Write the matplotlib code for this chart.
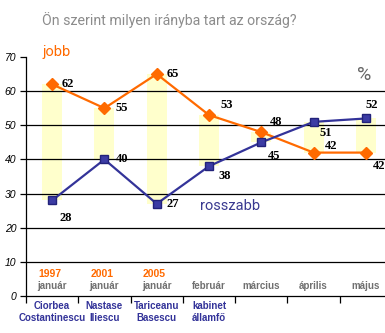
import numpy as np
import matplotlib
matplotlib.use('Agg')
from matplotlib import pyplot as plt

# data
months = ['január', 'január', 'január', 'február', 'március', 'április', 'május']
years = ['1997', '2001', '2005', '', '', '', '']
names = ['Ciorbea\nCostantinescu', 'Nastase\nIliescu', 'Tariceanu\nBasescu',
         'kabinet\nállamfő', '', '', '']
jobb = [62, 55, 65, 53, 48, 42, 42]
rosszabb = [28, 40, 27, 38, 45, 51, 52]

# label offsets in points (dx, dy)
jobb_off = [(7, 0), (8, 0), (7, 0), (8, 7), (6, 7), (8, 5), (5, -10)]
rossz_off = [(5, -13), (8, 0), (7, 0), (7, -7), (5, -10), (4, -8), (0, 10)]

ORANGE = '#ff6a00'
NAVY = '#333399'
YELLOW = '#ffffcc'

fig = plt.figure(figsize=(3.85, 3.33), dpi=100)
ax = fig.add_axes([26/385, 1-296/333, 366/385, (296-57)/333])

x = np.arange(len(months)) + 0.5
lo = np.minimum(jobb, rosszabb)
hi = np.maximum(jobb, rosszabb)
ax.bar(x, hi - lo, bottom=lo, width=0.38, color=YELLOW, zorder=1)

for v in range(10, 70, 10):
    ax.axhline(v, color='black', lw=0.9, zorder=1.5)

ax.plot(x, jobb, color=ORANGE, lw=1.6, marker='D', ms=5.8, mec=ORANGE, zorder=3)
ax.plot(x, rosszabb, color=NAVY, lw=1.6, marker='s', ms=5.5,
        mfc='#3c3ca4', mec='#22227a', zorder=3)

lab = dict(fontsize=9, fontweight='bold', family=['Liberation Serif', 'DejaVu Serif'],
           va='center', ha='left', zorder=4)
for xi, v, o in zip(x, jobb, jobb_off):
    ax.annotate(str(v), (xi, v), xytext=o, textcoords='offset points', **lab)
for xi, v, o in zip(x, rosszabb, rossz_off):
    ax.annotate(str(v), (xi, v), xytext=o, textcoords='offset points', **lab)

ax.set_xlim(0, 7)
ax.set_ylim(0, 70)
ax.set_yticks(range(0, 71, 10))
ax.set_xticks(range(0, 8))
ax.set_xticklabels([])
ax.tick_params(axis='y', direction='out', length=4, width=0.9, pad=3,
               labelsize=7.5)
ax.tick_params(axis='x', direction='out', length=5, width=0.9)
for t in ax.get_yticklabels():
    t.set_fontstyle('italic')
    t.set_family(['Liberation Sans', 'DejaVu Sans'])
for s in ['top', 'right']:
    ax.spines[s].set_visible(False)
for s in ['left', 'bottom']:
    ax.spines[s].set_linewidth(0.9)

sans = ['Liberation Sans', 'DejaVu Sans']
for xi, m, yr, nm in zip(x, months, years, names):
    ax.text(xi, 2.9, m, ha='center', va='center', fontsize=7, fontweight='bold',
            color='#707070', family=sans)
    if yr:
        ax.text(xi - 0.05, 6.4, yr, ha='center', va='center', fontsize=7.5,
                fontweight='bold', color=ORANGE, family=sans)
    if nm:
        ax.text(xi, -1.6, nm, ha='center', va='top', fontsize=7, fontweight='bold',
                color=NAVY, family=sans, linespacing=1.2, clip_on=False)

cond = ['Roboto', 'DejaVu Sans']
fig.text(42/385, 1-20/333, 'Ön szerint milyen irányba tart az ország?', fontsize=10.2,
         color='#8c8c8c', va='center', ha='left', family=cond)
fig.text(43/385, 1-52/333, 'jobb', fontsize=10.5, color=ORANGE, va='center', ha='left',
         family=cond)
fig.text(200/385, 1-206/333, 'rosszabb', fontsize=10.5, color='#3a3a90', va='center',
         ha='left', family=cond)
fig.text(357/385, 1-75/333, '%', fontsize=14, color='#666666', va='center', ha='left',
         family=cond)

fig.savefig('out.png', dpi=100)
